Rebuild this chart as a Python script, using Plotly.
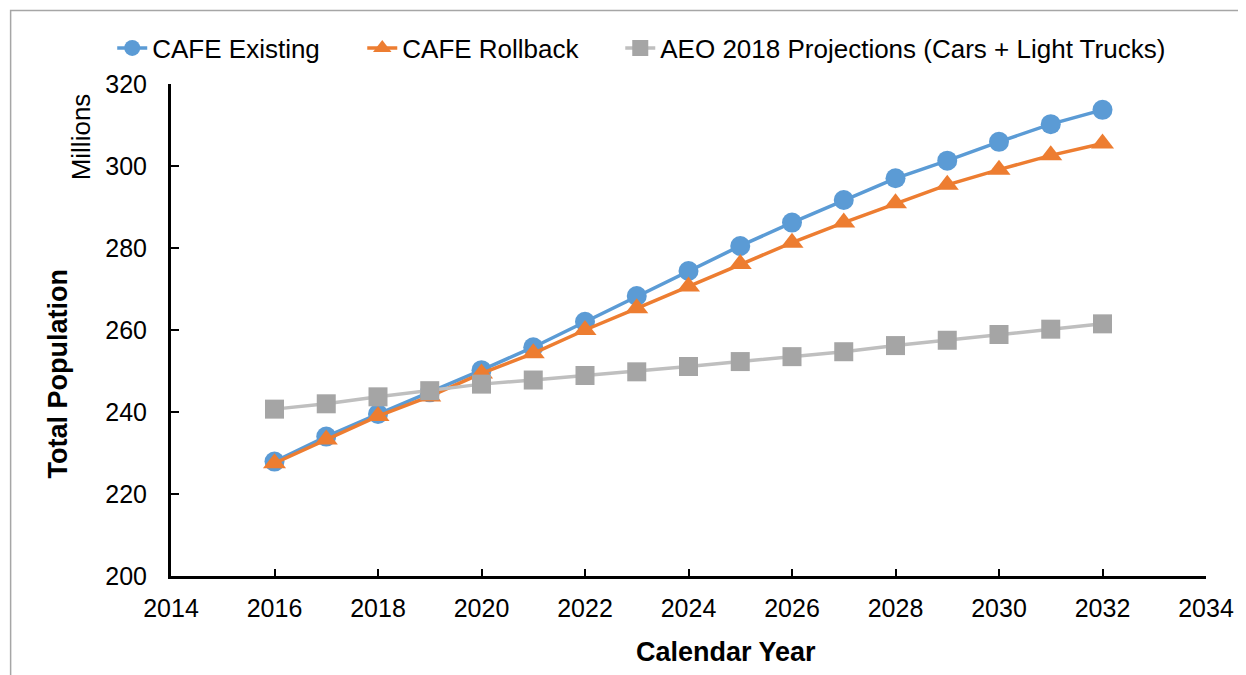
import plotly.graph_objects as go

years = list(range(2016, 2033))
cafe_existing = [227.9, 234.0, 239.5, 244.8, 250.2, 255.8, 262.0, 268.3, 274.4,
                 280.5, 286.2, 291.7, 297.0, 301.3, 305.9, 310.2, 313.7]
cafe_rollback = [227.5, 233.3, 239.0, 243.8, 249.4, 254.3, 260.0, 265.3, 270.6,
                 276.1, 281.3, 286.2, 290.9, 295.4, 299.1, 302.6, 305.5]
aeo_2018 = [240.7, 242.0, 243.7, 245.2, 246.8, 247.8, 248.9, 249.8, 251.1,
            252.3, 253.5, 254.7, 256.2, 257.5, 258.9, 260.2, 261.5]

x_ticks = list(range(2014, 2035, 2))
y_ticks = list(range(200, 321, 20))

FONT = "Liberation Sans, Arial, sans-serif"

# page has an 8px body margin; work in page pixels and convert
OFF = 8
W, H = 1238, 667
PL, PR, PT, PB = 171, 1210, 84, 576          # plot area in page pixels
L, T = PL - OFF, PT - OFF
R = W - (PR - OFF)
B = H - (PB - OFF)
PW = W - L - R
PH = H - T - B


def px_x(px):
    return (px - OFF - L) / PW


def px_y(py):
    return (H - B - (py - OFF)) / PH


fig = go.Figure()
fig.add_trace(go.Scatter(
    x=years, y=cafe_existing, name="CAFE Existing", mode="lines+markers",
    line=dict(color="#5B9BD5", width=3.5),
    marker=dict(symbol="circle", size=20, color="#5B9BD5"),
    legend="legend",
))
fig.add_trace(go.Scatter(
    x=years, y=cafe_rollback, name="CAFE Rollback", mode="lines+markers",
    line=dict(color="#ED7D31", width=3.5),
    marker=dict(symbol="triangle-up", size=20, color="#ED7D31"),
    legend="legend2",
))
fig.add_trace(go.Scatter(
    x=years, y=aeo_2018, name="AEO 2018 Projections (Cars + Light Trucks)",
    mode="lines+markers",
    line=dict(color="#BFBFBF", width=3.5),
    marker=dict(symbol="square", size=19, color="#A5A5A5"),
    legend="legend3",
))


def leg(text_start_px):
    return dict(
        orientation="h", x=px_x(text_start_px - 40), y=px_y(48),
        xanchor="left", yanchor="middle",
        font=dict(size=26, family=FONT), bgcolor="rgba(0,0,0,0)",
    )


fig.update_layout(
    width=W, height=H,
    margin=dict(l=L, r=R, t=T, b=B),
    paper_bgcolor="white", plot_bgcolor="white",
    font=dict(family=FONT, size=25, color="black"),
    showlegend=True,
    legend=leg(152),
    legend2=leg(403),
    legend3=leg(662),
    xaxis=dict(
        range=[2014, 2034], tickvals=x_ticks, showgrid=False, zeroline=False,
        showline=True, linecolor="black", linewidth=3,
        ticks="inside", ticklen=7, tickwidth=2, tickcolor="black",
        tickfont=dict(size=25, family=FONT), ticklabelstandoff=8,
    ),
    yaxis=dict(
        range=[200, 320], tickvals=y_ticks, showgrid=False, zeroline=False,
        showline=True, linecolor="black", linewidth=3,
        ticks="inside", ticklen=8, tickwidth=2, tickcolor="black",
        tickfont=dict(size=25, family=FONT), ticklabelstandoff=16,
    ),
    annotations=[
        dict(text="<b>Calendar Year</b>", xref="paper", yref="paper",
             x=px_x(728), y=px_y(652), xanchor="center", yanchor="middle",
             showarrow=False, font=dict(size=27, family=FONT)),
        dict(text="<b>Total Population</b>", xref="paper", yref="paper",
             x=px_x(58), y=px_y(374), xanchor="center", yanchor="middle",
             showarrow=False, textangle=-90, font=dict(size=27, family=FONT)),
        dict(text="Millions", xref="paper", yref="paper",
             x=px_x(81), y=px_y(137), xanchor="center", yanchor="middle",
             showarrow=False, textangle=-90, font=dict(size=26, family=FONT)),
    ],
    shapes=[
        dict(type="rect", xref="paper", yref="paper",
             x0=px_x(10), x1=px_x(1270), y0=px_y(700), y1=px_y(10.5),
             line=dict(color="#A6A6A6", width=1.5), fillcolor="rgba(0,0,0,0)",
             layer="below"),
    ],
)

fig.write_html("out.html")
